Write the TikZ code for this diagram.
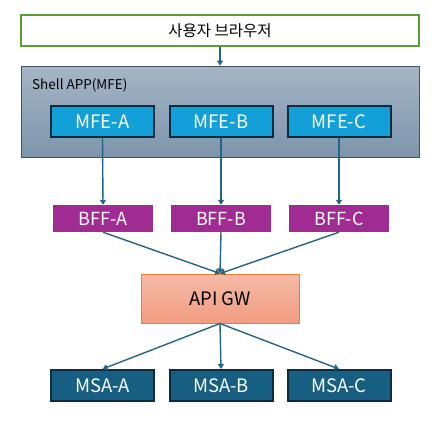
\documentclass[tikz,border=0pt]{standalone}
\usepackage{fontspec}
\setmainfont{Noto Sans CJK KR}
\usetikzlibrary{arrows.meta}
\definecolor{linkblue}{HTML}{236585}
\definecolor{browsergreen}{HTML}{5B9F32}
\definecolor{shelltop}{HTML}{A5B5C5}
\definecolor{shellbot}{HTML}{7D95AC}
\definecolor{shellline}{HTML}{3F5468}
\definecolor{mfeblue}{HTML}{139FD7}
\definecolor{darkline}{HTML}{0E2C40}
\definecolor{bffpurple}{HTML}{A02B93}
\definecolor{gwtop}{HTML}{F5BBA7}
\definecolor{gwbot}{HTML}{F19C80}
\definecolor{gwline}{HTML}{ED7D31}
\definecolor{msablue}{HTML}{175F82}
\tikzset{
  appbox/.style={minimum width=103pt, minimum height=31pt, inner sep=0pt,
    draw=darkline, line width=2pt, text=white, font=\fontsize{18.5}{18.5}\selectfont},
  mfebox/.style={appbox, fill=mfeblue},
  msabox/.style={appbox, fill=msablue},
  bffbox/.style={minimum width=100pt, minimum height=27pt, inner sep=0pt,
    fill=bffpurple, text=white, font=\fontsize{18}{18}\selectfont},
  link/.style={draw=linkblue, line width=1.4pt, -{Triangle[width=6pt,length=5pt]}}
}
\begin{document}
\begin{tikzpicture}[x=1pt, y=-1pt]
        \useasboundingbox (0,0) rectangle (441,421);

        % browser and shell
        \node[draw=browsergreen, line width=2pt, minimum width=398pt, minimum height=31pt,
              inner sep=0pt, font=\fontsize{15.5}{15.5}\selectfont] (browser) at (220,30.5) {사용자 브라우저};
        \node[draw=shellline, line width=0.8pt, top color=shelltop, bottom color=shellbot,
              minimum width=398pt, minimum height=91pt, inner sep=0pt] (shell) at (220,111.5) {};
        \node[anchor=west, inner sep=0pt, font=\fontsize{13.5}{13.5}\selectfont] (shelltitle) at (32,85) {Shell APP(MFE)};

        % micro frontends
        \node[mfebox] (mfea) at (102.5,121.5) {MFE-A};
        \node[mfebox] (mfeb) at (221,121.5) {MFE-B};
        \node[mfebox] (mfec) at (339,121.5) {MFE-C};

        % backends for frontends
        \node[bffbox] (bffa) at (103,218.5) {BFF-A};
        \node[bffbox] (bffb) at (221,218.5) {BFF-B};
        \node[bffbox] (bffc) at (339,218.5) {BFF-C};

        % gateway
        \node[draw=gwline, line width=1pt, top color=gwtop, bottom color=gwbot,
              minimum width=158pt, minimum height=49pt, inner sep=0pt,
              font=\fontsize{18.5}{18.5}\selectfont] (gw) at (220,298.5) {API GW};

        % services
        \node[msabox] (msaa) at (102.5,385.5) {MSA-A};
        \node[msabox] (msab) at (221,385.5) {MSA-B};
        \node[msabox] (msac) at (339,385.5) {MSA-C};

        \draw[link] (browser.south) -- (shell.north);
        \draw[link] (mfea.south) -- (bffa.north);
        \draw[link] (mfeb.south) -- (bffb.north);
        \draw[link] (mfec.south) -- (bffc.north);
        \draw[link] (bffa.south) -- (gw.north);
        \draw[link] (bffb.south) -- (gw.north);
        \draw[link] (bffc.south) -- (gw.north);
        \draw[link] (gw.south) -- (msaa.north);
        \draw[link] (gw.south) -- (msab.north);
        \draw[link] (gw.south) -- (msac.north);
    \end{tikzpicture}
\end{document}
